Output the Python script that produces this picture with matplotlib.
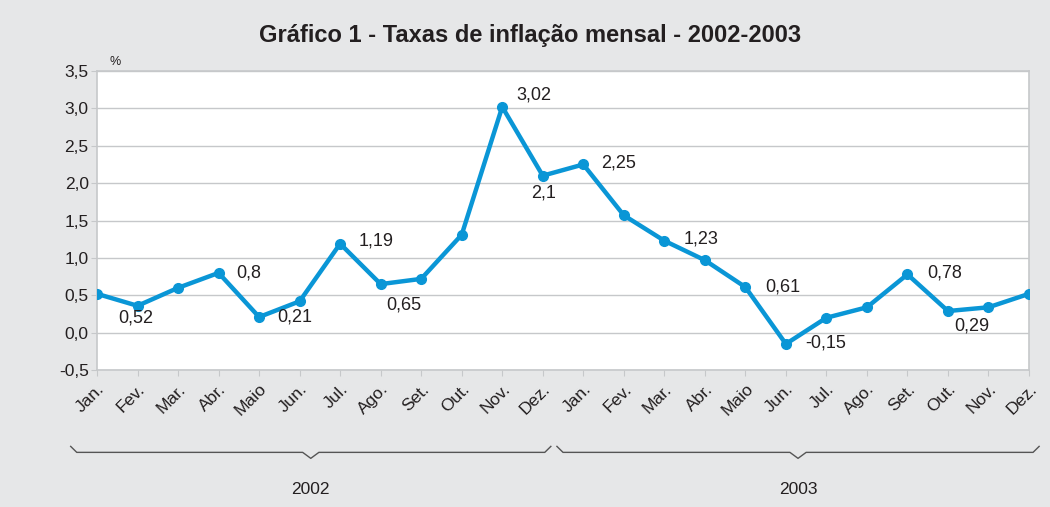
import matplotlib.pyplot as plt
import matplotlib.transforms as mtransforms
from matplotlib import font_manager

meses = ['Jan.', 'Fev.', 'Mar.', 'Abr.', 'Maio', 'Jun.', 'Jul.', 'Ago.', 'Set.', 'Out.', 'Nov.', 'Dez.']
rotulos_x = meses + meses
anos = ['2002', '2003']
taxas = [0.52, 0.36, 0.60, 0.80, 0.21, 0.42, 1.19, 0.65, 0.72, 1.31, 3.02, 2.10,
         2.25, 1.57, 1.23, 0.97, 0.61, -0.15, 0.20, 0.34, 0.78, 0.29, 0.34, 0.52]
# (indice do ponto, texto, deslocamento em pontos)
rotulos_valor = [
    (1, '0,52', (-1, -8.6)), (3, '0,8', (21.6, 0)), (4, '0,21', (26, 0)),
    (6, '1,19', (26, 2)), (7, '0,65', (16.6, -15)), (10, '3,02', (22.8, 8.9)),
    (11, '2,1', (0.7, -12.7)), (12, '2,25', (25.7, 0.7)), (14, '1,23', (26.6, 1)),
    (16, '0,61', (26.9, 0)), (17, '-0,15', (28.6, 0.7)), (20, '0,78', (26.6, 0.7)),
    (21, '0,29', (17.3, -11)),
]

nomes = {f.name for f in font_manager.fontManager.ttflist}
fonte = 'Liberation Sans'
fonte_titulo = 'Liberation Sans Narrow' if 'Liberation Sans Narrow' in nomes else 'Liberation Sans'
plt.rcParams['font.family'] = [fonte, 'DejaVu Sans']

cor_fundo = '#e6e7e8'
cor_linha = '#0a96d6'
cor_texto = '#231f20'
cor_grade = '#c6c8ca'

fig = plt.figure(figsize=(10.5, 5.07), dpi=100, facecolor=cor_fundo)
ax = fig.add_axes([0.0924, 0.270, 0.8876, 0.590])
ax.set_facecolor('white')

x = list(range(len(taxas)))
ax.plot(x, taxas, color=cor_linha, linewidth=3.2, marker='o', markersize=7, zorder=3)

for i, txt, off in rotulos_valor:
    ax.annotate(txt, (x[i], taxas[i]), xytext=off, textcoords='offset points',
                ha='center', va='center', fontsize=13, color=cor_texto)

ax.set_xlim(0, len(taxas) - 1)
ax.set_ylim(-0.5, 3.5)
yt = [-0.5, 0, 0.5, 1.0, 1.5, 2.0, 2.5, 3.0, 3.5]
ax.set_yticks(yt)
ax.set_yticklabels([f'{v:.1f}'.replace('.', ',') for v in yt], fontsize=12.5, color=cor_texto)
ax.set_xticks(x)
ax.set_xticklabels(rotulos_x, rotation=45, ha='right', rotation_mode='anchor',
                   fontsize=12.5, color=cor_texto)
ax.tick_params(axis='y', length=4, color=cor_grade, pad=2)
ax.tick_params(axis='x', length=4, color=cor_grade, pad=4)
ax.grid(axis='y', color=cor_grade, linewidth=1)
ax.set_axisbelow(True)
for s in ax.spines.values():
    s.set_color(cor_grade)
    s.set_linewidth(1.2)

ax.text(0.013, 1.01, '%', transform=ax.transAxes, fontsize=9, color=cor_texto, va='bottom')

fig.text(0.505, 0.930, 'Gráfico 1 - Taxas de inflação mensal - 2002-2003',
         ha='center', va='center', fontsize=17, fontweight='bold',
         family=[fonte_titulo, 'DejaVu Sans'], color=cor_texto)

# chaves dos anos
trans = mtransforms.blended_transform_factory(ax.transData, ax.transAxes)
grupos = [(-0.65, 11.2), (11.35, 23.25)]
yb = -0.275
for (a, b), ano in zip(grupos, anos):
    m = (a + b) / 2
    xs = [a, a + 0.15, m - 0.2, m, m + 0.2, b - 0.15, b]
    ys = [yb + 0.02, yb, yb, yb - 0.02, yb, yb, yb + 0.02]
    ax.plot(xs, ys, transform=trans, color='#555555', linewidth=1.0, clip_on=False)
    ax.text(m, yb - 0.125, ano, transform=trans, ha='center', va='center',
            fontsize=12.5, color=cor_texto)

fig.savefig('out.png', dpi=100, facecolor=cor_fundo)
